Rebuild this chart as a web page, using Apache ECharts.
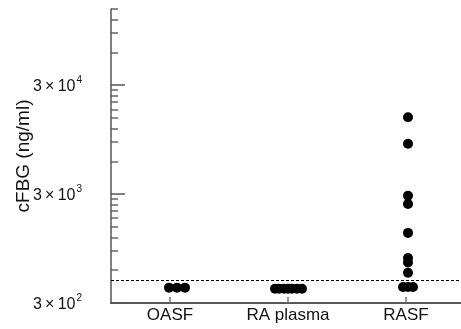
<!DOCTYPE html>
<html>
<head>
<meta charset="utf-8">
<script src="https://cdn.jsdelivr.net/npm/echarts@6/dist/echarts.min.js"></script>
<style>html,body{margin:0;padding:0;background:#fff;}#c{width:461px;height:329px;}</style>
</head>
<body>
<div id="c"></div>
<script>
// ---- data ----
const categories = ['OASF', 'RA plasma', 'RASF'];
const oasfValues = [415, 415, 415];
const raPlasmaValues = [405, 405, 405, 405, 405, 405, 405];
const rasfValues = [15200, 8700, 2900, 2430, 1320, 776, 707, 569, 420, 420, 420];
const detectionLimit = 490;
const majorTickValues = [300, 3000, 30000];
const yMin = 300, yMax = 150000;
const yAxisName = 'cFBG (ng/ml)';

// ---- horizontal jitter of overlapping dots (pixels, style only) ----
const jitter = [
  [-1, 7, 15],
  [-13, -9, -4, 0, 4, 9, 14],
  [2, 2, 2, 2, 2, 2, 2, 2, -3, 2, 7]
];

const L = Math.log10;
const minorTickValues = [];
for (let e = 2; e <= 4; e++) {
  for (let k = 2; k <= 9; k++) {
    const v = k * 3 * Math.pow(10, e);
    if (v <= yMax) minorTickValues.push(L(v));
  }
}
minorTickValues.push(L(yMax));

const groups = [oasfValues, raPlasmaValues, rasfValues];
const scatterData = [];
groups.forEach((vals, ci) => {
  vals.forEach((v, i) => {
    scatterData.push({ value: [ci, L(v)], symbolOffset: [jitter[ci][i] || 0, 0] });
  });
});

const FONT = 'Liberation Sans, Arial, sans-serif';
const chart = echarts.init(document.getElementById('c'), null, { renderer: 'canvas' });
const yBase = {
  type: 'value',
  min: L(yMin),
  max: L(yMax),
  splitLine: { show: false },
  position: 'left'
};
chart.setOption({
  animation: false,
  backgroundColor: '#fff',
  grid: { left: 111, top: 9, width: 354, bottom: 26, containLabel: false, outerBoundsMode: 'none' },
  xAxis: {
    type: 'category',
    data: categories,
    boundaryGap: true,
    axisLine: { show: true, lineStyle: { color: '#222', width: 1.5 } },
    axisTick: { show: true, inside: true, alignWithLabel: true, length: 6, lineStyle: { color: '#777', width: 1.5 } },
    axisLabel: { color: '#111', fontSize: 17, fontFamily: FONT, margin: 4 },
    splitLine: { show: false }
  },
  yAxis: [
    Object.assign({}, yBase, {
      name: yAxisName,
      nameLocation: 'middle',
      nameGap: 78,
      nameMoveOverlap: false,
      nameRotate: 90,
      nameTextStyle: { color: '#111', fontSize: 19, fontFamily: FONT },
      axisLine: { show: true, lineStyle: { color: '#555', width: 1.5 } },
      axisTick: { show: true, inside: true, length: 14, customValues: majorTickValues.map(L), lineStyle: { color: '#555', width: 1.5 } },
      axisLabel: {
        customValues: majorTickValues.map(L),
        margin: 29,
        color: '#111',
        fontSize: 16,
        fontFamily: FONT,
        formatter: function (val) {
          const e = Math.round(val - L(3));
          return '{base|3\u2009\u00d7\u200910}{sup|' + e + '}';
        },
        rich: {
          base: { fontSize: 16, fontFamily: FONT, color: '#111', lineHeight: 19, verticalAlign: 'bottom' },
          sup: { fontSize: 10, fontFamily: FONT, color: '#111', lineHeight: 19, verticalAlign: 'top', padding: [0, 0, 0, 1] }
        }
      }
    }),
    Object.assign({}, yBase, {
      axisLine: { show: false },
      axisTick: { show: true, inside: true, length: 7, customValues: minorTickValues, lineStyle: { color: '#666', width: 1.5 } },
      axisLabel: { show: false }
    })
  ],
  series: [{
    type: 'scatter',
    yAxisIndex: 0,
    symbol: 'circle',
    symbolSize: 10,
    itemStyle: { color: '#000', opacity: 1 },
    data: scatterData,
    markLine: {
      silent: true,
      symbol: ['none', 'none'],
      label: { show: false },
      lineStyle: { color: '#000', type: [3, 2], width: 1 },
      data: [{ yAxis: L(detectionLimit) }]
    }
  }]
});
</script>
</body>
</html>
